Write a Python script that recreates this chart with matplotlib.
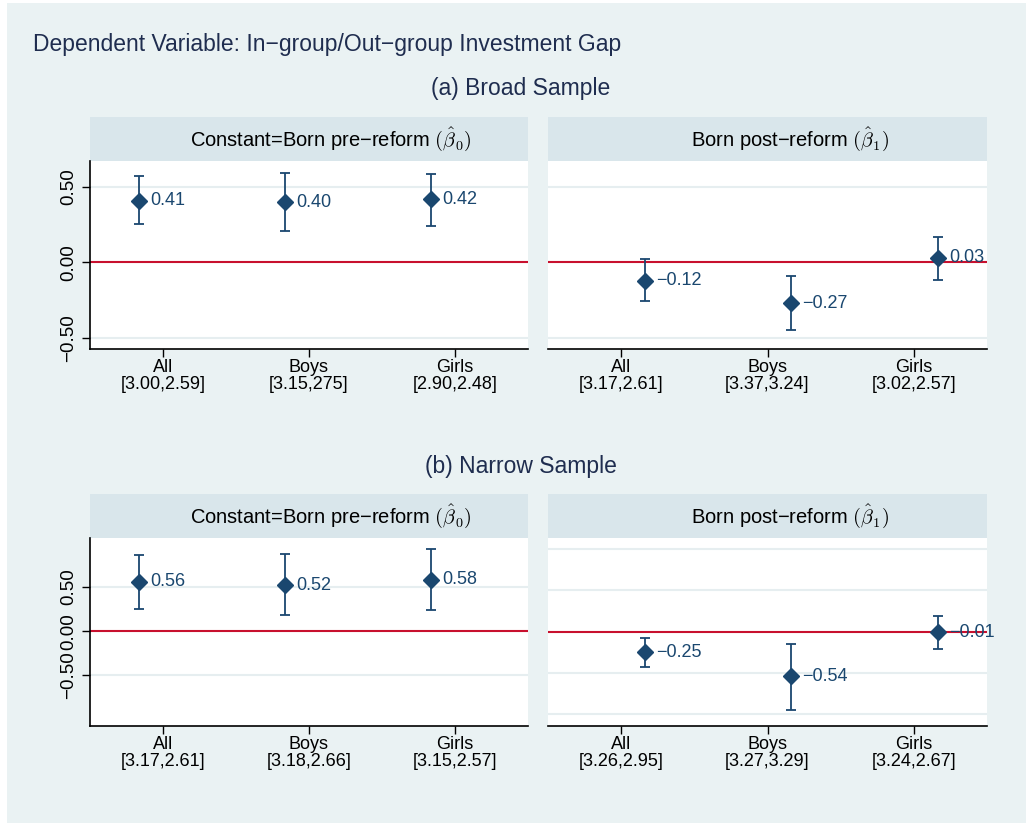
import matplotlib.pyplot as plt
import matplotlib.patches as mpatches
import numpy as np

plt.rcParams['font.family'] = ['Liberation Sans', 'DejaVu Sans']
plt.rcParams['mathtext.fontset'] = 'cm'

# data
groups = ["All", "Boys", "Girls"]

broad_b0_labels = ["[3.00,2.59]", "[3.15,275]", "[2.90,2.48]"]
broad_b0 = [0.41, 0.40, 0.42]
broad_b0_lo = [0.254, 0.207, 0.243]
broad_b0_hi = [0.570, 0.594, 0.589]

broad_b1_labels = ["[3.17,2.61]", "[3.37,3.24]", "[3.02,2.57]"]
broad_b1 = [-0.12, -0.27, 0.03]
broad_b1_lo = [-0.258, -0.448, -0.119]
broad_b1_hi = [0.022, -0.090, 0.168]

narrow_b0_labels = ["[3.17,2.61]", "[3.18,2.66]", "[3.15,2.57]"]
narrow_b0 = [0.56, 0.52, 0.58]
narrow_b0_lo = [0.251, 0.184, 0.237]
narrow_b0_hi = [0.865, 0.868, 0.928]

narrow_b1_labels = ["[3.26,2.95]", "[3.27,3.29]", "[3.24,2.67]"]
narrow_b1 = [-0.25, -0.54, -0.01]
narrow_b1_lo = [-0.430, -0.943, -0.208]
narrow_b1_hi = [-0.076, -0.145, 0.189]

NAVY = "#1a476f"
RED = "#c8102e"
BG = "#eaf2f3"
STRIP = "#d9e6eb"
GRID = "#e6eef0"
TITLE = "#1f2d4f"

W, H = 1026, 823
fig = plt.figure(figsize=(W / 100, H / 100), dpi=100, facecolor="white")
fig.patches.append(mpatches.Rectangle((7 / W, 0), 1, 1 - 3 / H, transform=fig.transFigure,
                                      facecolor=BG, edgecolor="none", zorder=-10))


def ax_at(x0, y0, x1, y1):
    return fig.add_axes([x0 / W, 1 - y1 / H, (x1 - x0) / W, (y1 - y0) / H])


def strip(x0, y0, x1, y1, text):
    s = ax_at(x0, y0, x1, y1)
    s.set_facecolor(STRIP)
    s.set_xticks([])
    s.set_yticks([])
    for sp in s.spines.values():
        sp.set_visible(False)
    # the label sits a little right of the strip centre in the original
    s.text(0.5 + 22 / (x1 - x0), 0.5, text, ha="center", va="center", fontsize=14.5,
           transform=s.transAxes)


def fmt(v):
    return f"{v:.2f}".replace("-", "\u2212")


def panel(x0, y0, x1, y1, est, lo, hi, sub, offset, ylim, grid, show_y):
    ax = ax_at(x0, y0, x1, y1)
    ax.set_facecolor("white")
    x = np.arange(1, 4)
    xp = x + offset
    est = np.array(est)
    err = [est - np.array(lo), np.array(hi) - est]
    ax.errorbar(xp, est, yerr=err, fmt="none", ecolor=NAVY, elinewidth=1.3,
                capsize=3.8, capthick=1.3, zorder=3)
    ax.plot(xp, est, "D", color=NAVY, markersize=8, zorder=4)
    for xi, v in zip(xp, est):
        ax.annotate(fmt(v), (xi, v), xytext=(8, 0), textcoords="offset points",
                    ha="left", va="center", color=NAVY, fontsize=13, zorder=2)
    ax.axhline(0, color=RED, lw=1.5, zorder=1)
    for g in grid:
        ax.axhline(g, color=GRID, lw=1.5, zorder=0)
    ax.set_xlim(0.5, 3.5)
    ax.set_ylim(*ylim)
    ax.set_xticks(x)
    ax.set_xticklabels([f"{g}\n{s}" for g, s in zip(groups, sub)], fontsize=13, linespacing=1.02)
    ax.tick_params(axis="x", length=6, width=1, pad=1)
    for sp in ["top", "right"]:
        ax.spines[sp].set_visible(False)
    ax.spines["bottom"].set_linewidth(1.2)
    if show_y:
        ax.set_yticks([-0.5, 0, 0.5])
        ax.set_yticklabels(["\u22120.50", "0.00", "0.50"], rotation=90, va="center", fontsize=13.5)
        ax.tick_params(axis="y", length=6, width=1, pad=3)
        ax.spines["left"].set_linewidth(1.2)
    else:
        ax.set_yticks([])
        ax.spines["left"].set_visible(False)
    return ax


fig.text(33 / W, 1 - 44 / H, "Dependent Variable: In\u2212group/Out\u2212group Investment Gap",
         ha="left", va="center", fontsize=16.5, color=TITLE)
fig.text(521 / W, 1 - 89 / H, "(a) Broad Sample", ha="center", va="center", fontsize=16.5, color=TITLE)
fig.text(521 / W, 1 - 466 / H, "(b) Narrow Sample", ha="center", va="center", fontsize=16.5, color=TITLE)

s0 = "Constant=Born pre\u2212reform " + r"$(\hat{\beta}_0)$"
s1 = "Born post\u2212reform " + r"$(\hat{\beta}_1)$"

# (a) broad sample
strip(90, 117, 528, 161, s0)
strip(548, 117, 987, 161, s1)
top_lim = (-0.573, 0.672)
panel(90, 161, 528, 349, broad_b0, broad_b0_lo, broad_b0_hi, broad_b0_labels, -0.164,
      top_lim, [-0.5, 0.5], True)
panel(548, 161, 987, 349, broad_b1, broad_b1_lo, broad_b1_hi, broad_b1_labels, 0.164,
      top_lim, [-0.5, 0.5], False)

# (b) narrow sample
strip(90, 494, 528, 538, s0)
strip(548, 494, 987, 538, s1)
panel(90, 538, 528, 726, narrow_b0, narrow_b0_lo, narrow_b0_hi, narrow_b0_labels, -0.164,
      (-1.071, 1.052), [-0.5, 0.5], True)
panel(548, 538, 987, 726, narrow_b1, narrow_b1_lo, narrow_b1_hi, narrow_b1_labels, 0.164,
      (-1.14, 1.13), [-1.0, -0.5, 0.5, 1.0], False)

plt.savefig("out.png", dpi=100, facecolor=fig.get_facecolor())
